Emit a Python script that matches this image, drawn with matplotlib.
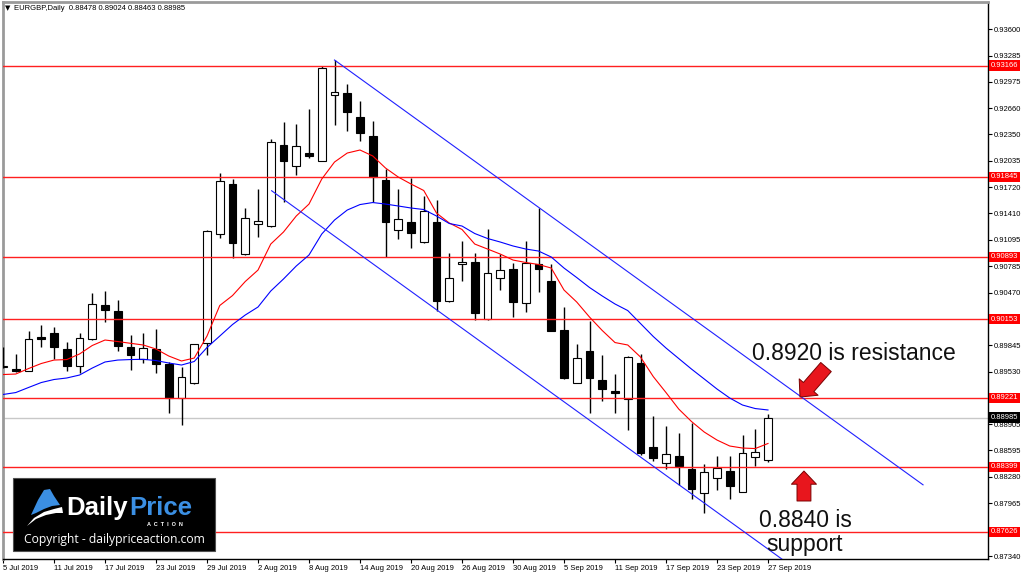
import matplotlib
matplotlib.use('Agg')
import matplotlib.pyplot as plt
from matplotlib.patches import Rectangle, Polygon, FancyArrowPatch, ArrowStyle
from matplotlib.transforms import blended_transform_factory

plt.rcParams['font.family'] = ['Liberation Sans', 'DejaVu Sans']

# ---------------- data ----------------
opens = [0.89591, 0.89561, 0.89541, 0.89942, 0.89993, 0.89796, 0.89603, 0.89914, 0.90322, 0.90250,
         0.89819, 0.89677, 0.89796, 0.89617, 0.89213, 0.89392, 0.89867, 0.91161, 0.91755, 0.90927,
         0.91284, 0.91260, 0.92222, 0.91973, 0.92131, 0.92036, 0.92812, 0.92836, 0.92558, 0.92329,
         0.91806, 0.91213, 0.91311, 0.91066, 0.91311, 0.90373, 0.90805, 0.90836, 0.90152, 0.90646,
         0.90749, 0.90342, 0.90809, 0.90607, 0.90025, 0.89399, 0.89779, 0.89431, 0.89300, 0.89202,
         0.89636, 0.88639, 0.88449, 0.88528, 0.88370, 0.88085, 0.88270, 0.88354, 0.88104, 0.88513,
         0.88478]
highs = [0.89823, 0.89740, 0.90016, 0.90084, 0.90060, 0.89886, 0.89995, 0.90461, 0.90488, 0.90381,
         0.89965, 0.89993, 0.90033, 0.89645, 0.89589, 0.89864, 0.91213, 0.91893, 0.91815, 0.91470,
         0.91696, 0.92293, 0.92499, 0.92472, 0.92646, 0.93164, 0.93232, 0.92943, 0.92748, 0.92507,
         0.91934, 0.91696, 0.91827, 0.91616, 0.91569, 0.90936, 0.91085, 0.90936, 0.91221, 0.90927,
         0.90817, 0.91082, 0.91470, 0.90805, 0.90301, 0.89855, 0.90135, 0.89728, 0.89499, 0.89716,
         0.89740, 0.89003, 0.88884, 0.88798, 0.88917, 0.88430, 0.88528, 0.88528, 0.88778, 0.88845,
         0.89024]
lows = [0.89573, 0.89526, 0.89536, 0.89826, 0.89680, 0.89538, 0.89510, 0.89910, 0.90123, 0.89775,
        0.89550, 0.89629, 0.89518, 0.89035, 0.88896, 0.89387, 0.89728, 0.91114, 0.90876, 0.90919,
        0.91133, 0.91246, 0.91549, 0.91866, 0.92064, 0.92030, 0.92460, 0.92392, 0.92273, 0.91549,
        0.90888, 0.91106, 0.90995, 0.91062, 0.90254, 0.90354, 0.90610, 0.90143, 0.90148, 0.90500,
        0.90183, 0.90242, 0.90480, 0.90008, 0.89446, 0.89393, 0.89035, 0.89185, 0.89035, 0.88837,
        0.88540, 0.88469, 0.88370, 0.88184, 0.88017, 0.87851, 0.88124, 0.88014, 0.88098, 0.88413,
        0.88463]
closes = [0.89603, 0.89538, 0.89914, 0.89924, 0.89826, 0.89597, 0.89933, 0.90334, 0.90262, 0.89835,
          0.89728, 0.89807, 0.89621, 0.89213, 0.89470, 0.89855, 0.91201, 0.91795, 0.91062, 0.91359,
          0.91319, 0.92258, 0.92032, 0.92214, 0.92095, 0.93140, 0.92848, 0.92611, 0.92361, 0.91846,
          0.91304, 0.91340, 0.91180, 0.91438, 0.90373, 0.90646, 0.90829, 0.90223, 0.90705, 0.90737,
          0.90354, 0.90817, 0.90746, 0.90013, 0.89451, 0.89696, 0.89458, 0.89320, 0.89273, 0.89708,
          0.88567, 0.88508, 0.88552, 0.88413, 0.88133, 0.88342, 0.88382, 0.88172, 0.88560, 0.88579,
          0.88985]
ma_fast = [0.89496, 0.89502, 0.89567, 0.89627, 0.89668, 0.89674, 0.89740, 0.89841, 0.89906, 0.89888,
           0.89867, 0.89847, 0.89799, 0.89716, 0.89657, 0.89692, 0.89953, 0.90316, 0.90434, 0.90601,
           0.90737, 0.91046, 0.91189, 0.91379, 0.91521, 0.91818, 0.92020, 0.92127, 0.92163, 0.92092,
           0.91949, 0.91842, 0.91759, 0.91682, 0.91414, 0.91296, 0.91219, 0.91046, 0.90987, 0.90927,
           0.90856, 0.90827, 0.90803, 0.90761, 0.90500, 0.90357, 0.90179, 0.90019, 0.89876, 0.89847,
           0.89704, 0.89472, 0.89282, 0.89086, 0.88938, 0.88813, 0.88718, 0.88647, 0.88623, 0.88617,
           0.88677]
ma_slow = [0.89259, 0.89282, 0.89342, 0.89401, 0.89437, 0.89455, 0.89490, 0.89573, 0.89645, 0.89668,
           0.89674, 0.89677, 0.89662, 0.89633, 0.89609, 0.89651, 0.89817, 0.89953, 0.90090, 0.90203,
           0.90298, 0.90488, 0.90631, 0.90785, 0.90916, 0.91165, 0.91331, 0.91450, 0.91515, 0.91539,
           0.91521, 0.91498, 0.91474, 0.91456, 0.91379, 0.91290, 0.91260, 0.91171, 0.91112, 0.91070,
           0.91023, 0.90987, 0.90963, 0.90892, 0.90761, 0.90648, 0.90530, 0.90429, 0.90334, 0.90256,
           0.90102, 0.89948, 0.89811, 0.89686, 0.89561, 0.89443, 0.89324, 0.89217, 0.89134, 0.89092,
           0.89075]
levels = [0.93166, 0.91845, 0.90893, 0.90153, 0.89221, 0.88399, 0.87626]
last_price = 0.88985
channel_upper = [(26.0, 0.93232), (72.16, 0.88186)]
channel_lower = [(21.07, 0.91679), (61.2, 0.87292)]
xtick_idx = [0, 4, 8, 12, 16, 20, 24, 28, 32, 36, 40, 44, 48, 52, 56, 60]
xtick_labels = ['5 Jul 2019', '11 Jul 2019', '17 Jul 2019', '23 Jul 2019', '29 Jul 2019',
                '2 Aug 2019', '8 Aug 2019', '14 Aug 2019', '20 Aug 2019', '26 Aug 2019',
                '30 Aug 2019', '5 Sep 2019', '11 Sep 2019', '17 Sep 2019', '23 Sep 2019',
                '27 Sep 2019']
yticks = [0.93600, 0.93285, 0.92975, 0.92660, 0.92350, 0.92035, 0.91720, 0.91410, 0.91095,
          0.90785, 0.90470, 0.89845, 0.89530, 0.88905, 0.88595, 0.88280, 0.87965, 0.87340]
header = 'EURGBP,Daily  0.88478 0.89024 0.88463 0.88985'

# ---------------- figure ----------------
W, H = 1024, 576
fig = plt.figure(figsize=(W / 100, H / 100), dpi=100)
fig.patch.set_facecolor('white')
ax = fig.add_axes([3 / W, (H - 559) / H, 985 / W, 557 / H])
ax.set_xlim(0, 985 / 12.75)
ax.set_ylim(0.87305, 0.93921)

px = 1.0 / 8419.0  # one pixel in price units
n = len(opens)
xs = list(range(n))

# current price line
ax.axhline(last_price, color='#c8c8c8', lw=1, zorder=1)

# candles
for i in xs:
    o, h, l, c = opens[i], highs[i], lows[i], closes[i]
    ax.vlines(i, l, h, color='black', lw=1, zorder=3)
    bot = min(o, c)
    hgt = max(abs(c - o), px)
    face = 'white' if c >= o else 'black'
    ax.add_patch(Rectangle((i - 0.31, bot), 0.62, hgt, fc=face, ec='black', lw=0.8, zorder=4))

# horizontal levels
for lv in levels:
    ax.axhline(lv, color='#ff2020', lw=1, zorder=5)

# moving averages
ax.plot(xs, ma_fast, color='#ff0000', lw=0.8, zorder=6)
ax.plot(xs, ma_slow, color='#0000ff', lw=0.8, zorder=6)

# channel
for ch in (channel_upper, channel_lower):
    ax.plot([ch[0][0], ch[1][0]], [ch[0][1], ch[1][1]], color='#2020ff', lw=0.8, zorder=6)

# axes styling
for s in ('top', 'left'):
    ax.spines[s].set_color('#9a9a9a')
    ax.spines[s].set_linewidth(2)
for s in ('right', 'bottom'):
    ax.spines[s].set_color('black')
    ax.spines[s].set_linewidth(1)
ax.yaxis.tick_right()
ax.set_yticks(yticks)
ax.set_yticklabels([f'{v:.5f}' for v in yticks])
ax.tick_params(axis='y', direction='out', length=3, width=0.8, pad=1.5, labelsize=5.5,
               colors='black', left=False)
ax.set_xticks(xtick_idx)
ax.set_xticklabels(xtick_labels, ha='left')
ax.tick_params(axis='x', direction='out', length=3, width=0.8, pad=1.5, labelsize=5.5)

# right axis price labels
bt = blended_transform_factory(ax.transAxes, ax.transData)
for lv in levels:
    ax.text(1.0 + 2.5 / 985, lv, f'{lv:.5f}', transform=bt, ha='left', va='center',
            color='white', fontsize=5.5, clip_on=False, zorder=10,
            bbox=dict(boxstyle='square,pad=0.22', fc='#ff0000', ec='none'))
ax.text(1.0 + 2.5 / 985, last_price, f'{last_price:.5f}', transform=bt, ha='left', va='center',
        color='white', fontsize=5.5, clip_on=False, zorder=10,
        bbox=dict(boxstyle='square,pad=0.22', fc='black', ec='none'))

# annotations
ax.text(58.75, 0.89668, '0.8920 is resistance', fontsize=16.5, color='#111111',
        ha='left', va='baseline', zorder=9)
ax.text(62.9, 0.87685, '0.8840 is', fontsize=16.5, color='#111111',
        ha='center', va='baseline', zorder=9)
ax.text(62.9, 0.87400, 'support', fontsize=16.5, color='#111111',
        ha='center', va='baseline', zorder=9, clip_on=False)

arrow_style = ArrowStyle.Simple(head_length=0.95, head_width=1.8, tail_width=1.0)
for tail, tip in (((64.55, 0.89585), (62.51, 0.89229)), ((62.82, 0.87994), (62.82, 0.88350))):
    ax.add_patch(FancyArrowPatch(tail, tip, arrowstyle=arrow_style, mutation_scale=10,
                                 fc='#e8161d', ec='#7a0000', lw=0.7, zorder=9,
                                 shrinkA=0, shrinkB=0, clip_on=False))

# header
fig.text(5 / W, 1 - 8 / H, '\u25bc', fontsize=5, family='DejaVu Sans', va='center', ha='left')
fig.text(14 / W, 1 - 8 / H, header, fontsize=5.5, va='center', ha='left')

# ---------------- logo overlay ----------------
ov = fig.add_axes([0, 0, 1, 1], zorder=20)
ov.set_xlim(0, W)
ov.set_ylim(H, 0)
ov.axis('off')
ov.patch.set_alpha(0)
ov.add_patch(Rectangle((13, 478), 202, 73, fc='black', ec='#505050', lw=0.8))
ov.add_patch(Polygon([(31, 515), (38, 500), (44, 490), (50, 489), (54, 496), (60, 505),
                      (52, 506), (44, 509), (36, 513)], closed=True, fc='#3b8fe3', ec='none'))
ov.add_patch(Polygon([(27, 526), (34, 518), (44, 512), (54, 509), (62, 507), (63, 513),
                      (56, 513), (46, 515), (36, 519)], closed=True, fc='white', ec='none'))
ov.text(66, 515, 'Daily', color='white', fontsize=18.5, fontweight='bold', ha='left', va='baseline')
ov.text(129, 515, 'Price', color='#3b8fe3', fontsize=18.5, fontweight='bold', ha='left', va='baseline')
ov.text(165, 524, 'A  C  T  I  O  N', color='white', fontsize=4, fontweight='bold',
        ha='center', va='center')
ov.text(114, 540, 'Copyright - dailypriceaction.com', color='white', fontsize=8.7,
        family=['Open Sans', 'DejaVu Sans'], ha='center', va='center')

fig.savefig('out.png', dpi=100)
